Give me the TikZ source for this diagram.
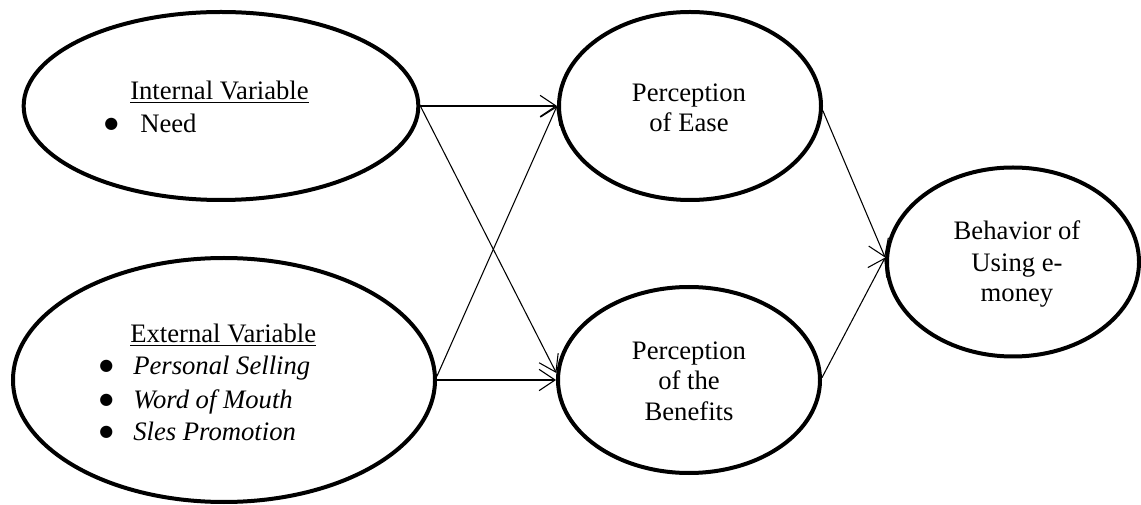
\documentclass[tikz,border=0pt]{standalone}
\usepackage{fontspec}
\setmainfont{Liberation Serif}
\newfontfamily\bulfont{DejaVu Sans}
\usetikzlibrary{shapes.geometric,arrows.meta}
\begin{document}
\begin{tikzpicture}[x=0.75pt,y=-0.75pt,
  ell/.style={ellipse, draw, line width=3pt, inner sep=0pt},
  txt/.style={anchor=base, inner sep=0pt, font=\fontsize{20}{24}\selectfont},
  ltxt/.style={anchor=base west, inner sep=0pt, font=\fontsize{20}{24}\selectfont},
  bul/.style={anchor=base west, inner sep=0pt, font=\bulfont\fontsize{12}{14}\selectfont},
  conn/.style={line width=0.8pt, -{Straight Barb[length=12pt,width=16pt]}}]
\useasboundingbox (0,0) rectangle (1141,505);

% ellipses
\node[ell, minimum width=296pt, minimum height=141pt] (int) at (221,106) {};
\node[ell, minimum width=316.5pt, minimum height=183pt] (ext) at (224,380) {};
\node[ell, minimum width=196.5pt, minimum height=141pt] (ease) at (690,106) {};
\node[ell, minimum width=196.5pt, minimum height=139.5pt] (ben) at (689,380) {};
\node[ell, minimum width=189pt, minimum height=141.75pt] (beh) at (1013,262) {};

% internal variable text
\node[ltxt] (intH) at (130,100) {\underline{Internal Variable}};
\node[bul] (intB1) at (104,129) {●};
\node[ltxt] (intT1) at (140,133) {Need};

% external variable text
\node[ltxt] (extH) at (130,343) {\underline{External Variable}};
\node[bul] (extB1) at (99,371) {●};
\node[ltxt] (extT1) at (133,375) {\itshape Personal Selling};
\node[bul] (extB2) at (99,404) {●};
\node[ltxt] (extT2) at (133,408) {\itshape Word of Mouth};
\node[bul] (extB3) at (99,436) {●};
\node[ltxt] (extT3) at (133,440) {\itshape Sles Promotion};

% perception of ease
\node[txt] (easeL1) at (689,102) {Perception};
\node[txt] (easeL2) at (689,132) {of Ease};

% perception of the benefits
\node[txt] (benL1) at (689,360) {Perception};
\node[txt] (benL2) at (689,390) {of the};
\node[txt] (benL3) at (689,421) {Benefits};

% behavior
\node[txt] (behL1) at (1017,240) {Behavior of};
\node[txt] (behL2) at (1017,272) {Using e-};
\node[txt] (behL3) at (1017,302) {money};

% connectors
\draw[conn] (int.east) -- (ease.west);
\draw[conn] (int.east) -- (ben.177);
\draw[conn] (ext.1) -- (ease.west);
\draw[conn] (ext.east) -- (ben.west);
\draw[conn] (ease.-2) -- (beh.178);
\draw[conn] (ben.1) -- (beh.178);
\end{tikzpicture}
\end{document}
